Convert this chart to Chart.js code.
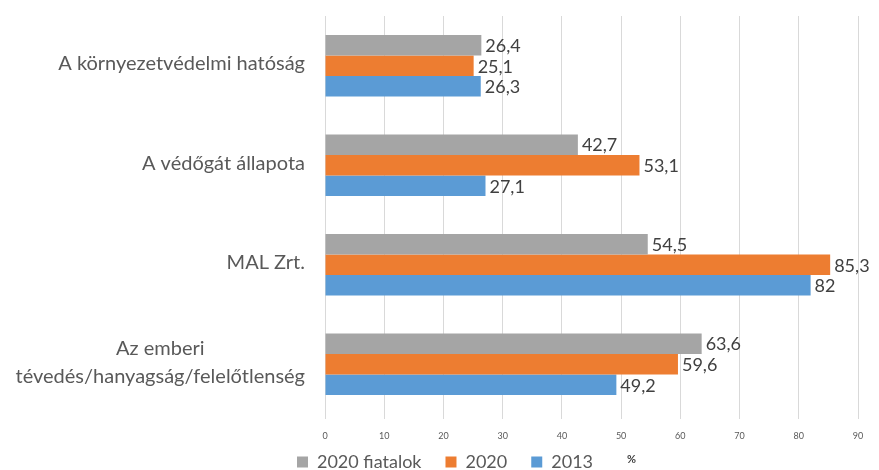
<!DOCTYPE html>
<html>
<head>
<meta charset="utf-8">
<script src="https://cdn.jsdelivr.net/npm/chart.js@4"></script>
<style>
  html, body { margin: 0; padding: 0; background: #fff; }
  #wrap { width: 879px; height: 470px; }
</style>
</head>
<body>
<div id="wrap"><canvas id="bar-chart"></canvas></div>
<script>
// categories (multi-line label given as array)
var categories = [
    "A környezetvédelmi hatóság",
    "A védőgát állapota",
    "MAL Zrt.",
    ["Az emberi", "tévedés/hanyagság/felelőtlenség"]
];
var seriesNames = ["2020 fiatalok", "2020", "2013"];
var fiatalok2020 = [26.4, 42.7, 54.5, 63.6];
var values2020 = [25.1, 53.1, 85.3, 59.6];
var values2013 = [26.3, 27.1, 82, 49.2];
var xTicks = [0, 10, 20, 30, 40, 50, 60, 70, 80, 90];
var unitLabel = "%";

var colors = ["#A5A5A5", "#ED7D31", "#5B9BD5"];
var fontFamily = "Lato, 'Open Sans', sans-serif";

document.addEventListener("DOMContentLoaded", function () {
    var ctx = document.getElementById("bar-chart").getContext("2d");

    // value labels at the end of each bar, decimal comma
    var valueLabels = {
        id: "valueLabels",
        afterDatasetsDraw: function (chart) {
            var c = chart.ctx;
            c.save();
            c.font = "18px " + fontFamily;
            c.fillStyle = "#404040";
            c.textAlign = "left";
            c.textBaseline = "middle";
            chart.data.datasets.forEach(function (ds, i) {
                var meta = chart.getDatasetMeta(i);
                meta.data.forEach(function (bar, j) {
                    var txt = String(ds.data[j]).replace(".", ",");
                    c.fillText(txt, bar.x + 4, bar.y + 1);
                });
            });
            c.restore();
        }
    };

    // category labels: right aligned, extra lines centred on the longest one
    var categoryLabels = {
        id: "categoryLabels",
        afterDraw: function (chart) {
            var c = chart.ctx;
            var yScale = chart.scales.y;
            var right = yScale.right - 20;
            c.save();
            c.font = "20px " + fontFamily;
            c.fillStyle = "#595959";
            c.textAlign = "center";
            c.textBaseline = "middle";
            categories.forEach(function (lab, i) {
                var lines = Array.isArray(lab) ? lab : [lab];
                var maxW = 0;
                lines.forEach(function (l) { maxW = Math.max(maxW, c.measureText(l).width); });
                var cy = yScale.getPixelForTick(i) - 2;
                var lh = 28;
                var y0 = cy - (lines.length - 1) * lh / 2;
                lines.forEach(function (l, k) {
                    c.fillText(l, right - maxW / 2, y0 + k * lh);
                });
            });
            c.restore();
        }
    };

    // legend sits a bit lower than Chart.js would put it
    var legendTighten = {
        id: "legendTighten",
        afterInit: function (chart) {
            var lg = chart.legend;
            var origFit = lg.fit;
            lg.fit = function () {
                origFit.apply(this, arguments);
                this.height -= 11;
            };
        }
    };

    // "%" after the legend items
    var unitText = {
        id: "unitText",
        afterDraw: function (chart) {
            var items = chart.legend.legendHitBoxes;
            if (!items || !items.length) return;
            var last = items[items.length - 1];
            var c = chart.ctx;
            c.save();
            c.font = "bold 11px " + fontFamily;
            c.fillStyle = "#404040";
            c.textAlign = "left";
            c.textBaseline = "middle";
            c.fillText(unitLabel, last.left + last.width + 34, last.top + last.height / 2 - 3);
            c.restore();
        }
    };

    var data = {
        labels: categories,
        datasets: [
            { label: seriesNames[0], data: fiatalok2020, backgroundColor: colors[0] },
            { label: seriesNames[1], data: values2020, backgroundColor: colors[1] },
            { label: seriesNames[2], data: values2013, backgroundColor: colors[2] }
        ]
    };

    new Chart(ctx, {
        type: "bar",
        data: data,
        plugins: [legendTighten, valueLabels, categoryLabels, unitText],
        options: {
            indexAxis: "y",
            responsive: true,
            maintainAspectRatio: false,
            animation: false,
            categoryPercentage: 0.62,
            barPercentage: 1,
            layout: { padding: { top: 16, right: 21, left: 32, bottom: 0 } },
            scales: {
                x: {
                    min: 0,
                    max: 90,
                    afterBuildTicks: function (axis) {
                        axis.ticks = xTicks.map(function (v) { return { value: v }; });
                    },
                    afterFit: function (axis) {
                        axis.height = 15;
                        // labels reach into the legend row, don't clip them
                        axis._computeLabelArea = function () { return undefined; };
                    },
                    grid: { color: "#D9D9D9", tickLength: 5, drawTicks: true },
                    border: { display: false },
                    ticks: {
                        color: "#595959",
                        font: { size: 9, family: fontFamily },
                        padding: 12
                    }
                },
                y: {
                    afterFit: function (axis) { axis.width = 293; },
                    grid: { display: false },
                    border: { display: false },
                    ticks: { display: false }
                }
            },
            plugins: {
                tooltip: { enabled: false },
                legend: {
                    position: "bottom",
                    labels: {
                        boxWidth: 11,
                        boxHeight: 11,
                        padding: 24,
                        color: "#595959",
                        font: { size: 18, family: fontFamily }
                    }
                }
            }
        }
    });
});
</script>
</body>
</html>
